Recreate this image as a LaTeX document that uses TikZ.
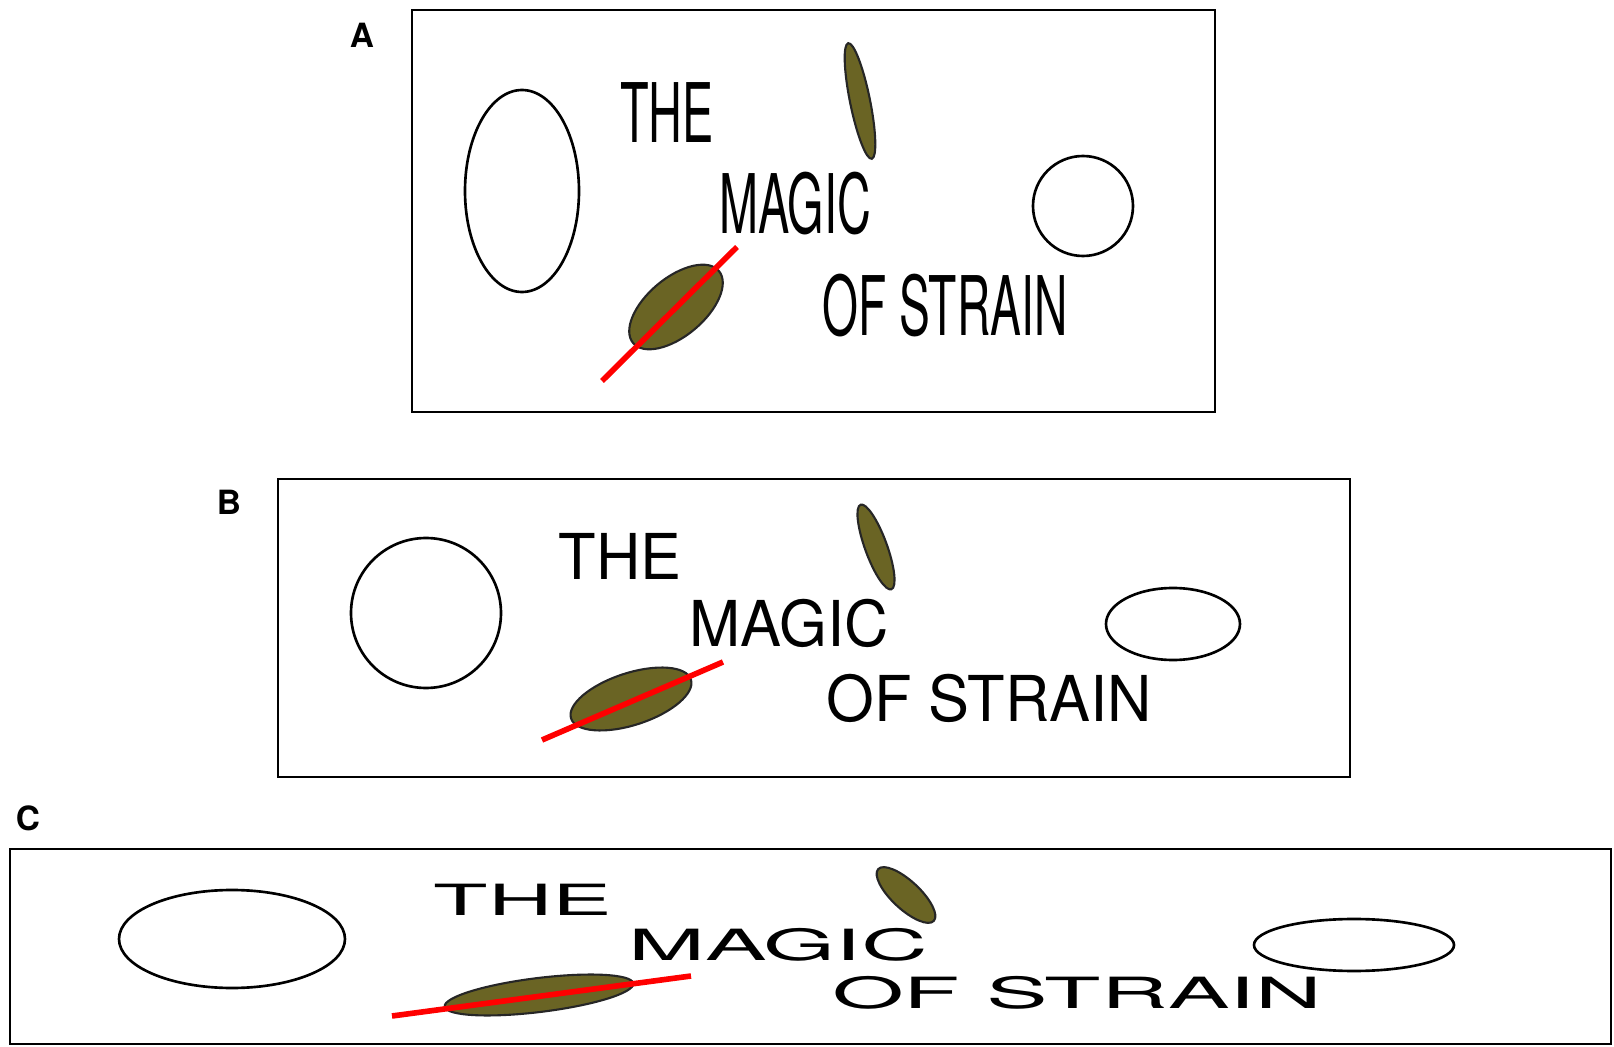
\documentclass[tikz,border=0pt]{standalone}
\usepackage{fontspec}
\setmainfont{TeX Gyre Heros}
\usepackage{xcolor}
\definecolor{grainfill}{RGB}{106,100,36}

\begin{document}
\begin{tikzpicture}[x=0.1mm,y=-0.1mm,line cap=round,
  frame/.style={draw=black,line width=0.7pt},
  ring/.style={draw=black,line width=0.75pt},
  grain/.style={draw=black!85,line width=0.6pt,fill=grainfill},
  cut/.style={red,line width=1.6pt,line cap=butt},
  word/.style={inner sep=0pt,font=\fontsize{18}{20}\selectfont},
  tag/.style={inner sep=0pt,font=\fontsize{9.5}{11}\selectfont\bfseries}]
\useasboundingbox (0,0) rectangle (1614,1047);

% A: stretched upwards
\node[tag] (tagA) at (362,35) {A};
\draw[frame] (412,10) rectangle (1215,412);
\draw[ring] (522,191) ellipse [x radius=57, y radius=101];
\draw[ring] (1083,206) circle [radius=50];
\filldraw[grain,rotate around={-78.5:(860,101)}] (860,101) ellipse [x radius=59, y radius=10];
\filldraw[grain,rotate around={40:(676,307)}] (676,307) ellipse [x radius=56, y radius=29];
\node[word,xscale=0.74,yscale=1.3] (theA) at (667,113) {THE};
\node[word,xscale=0.74,yscale=1.3] (magicA) at (795,204) {MAGIC};
\node[word,xscale=0.73,yscale=1.3] (strainA) at (945,306) {OF STRAIN};
\draw[cut] (602,381) -- (737,247);

% B: undeformed
\node[tag] (tagB) at (229,502) {B};
\draw[frame] (278,479) rectangle (1350,777);
\draw[ring] (426,613) circle [radius=75];
\draw[ring] (1173,624) ellipse [x radius=67, y radius=36];
\filldraw[grain,rotate around={-70:(876,547)}] (876,547) ellipse [x radius=45, y radius=11];
\filldraw[grain,rotate around={18:(631,699)}] (631,699) ellipse [x radius=63, y radius=26];
\node[word,xscale=0.97] (theB) at (620,556) {THE};
\node[word,xscale=0.97] (magicB) at (789,623) {MAGIC};
\node[word,xscale=0.97] (strainB) at (989,698) {OF STRAIN};
\draw[cut] (542,740) -- (723,662);

% C: stretched sideways
\node[tag] (tagC) at (28,818) {C};
\draw[frame] (10,849) rectangle (1611,1044);
\draw[ring] (232,939) ellipse [x radius=113, y radius=49];
\draw[ring] (1354,945) ellipse [x radius=100, y radius=26];
\filldraw[grain,rotate around={-43:(906,895)}] (906,895) ellipse [x radius=38, y radius=14];
\filldraw[grain,rotate around={7:(539,995)}] (539,995) ellipse [x radius=95, y radius=17];
\node[word,xscale=1.41,yscale=0.68] (theC) at (523,900) {THE};
\node[word,xscale=1.46,yscale=0.68] (magicC) at (778,945) {MAGIC};
\node[word,xscale=1.46,yscale=0.68] (strainC) at (1077,993) {OF STRAIN};
\draw[cut] (392,1016) -- (691,976);
\end{tikzpicture}
\end{document}
